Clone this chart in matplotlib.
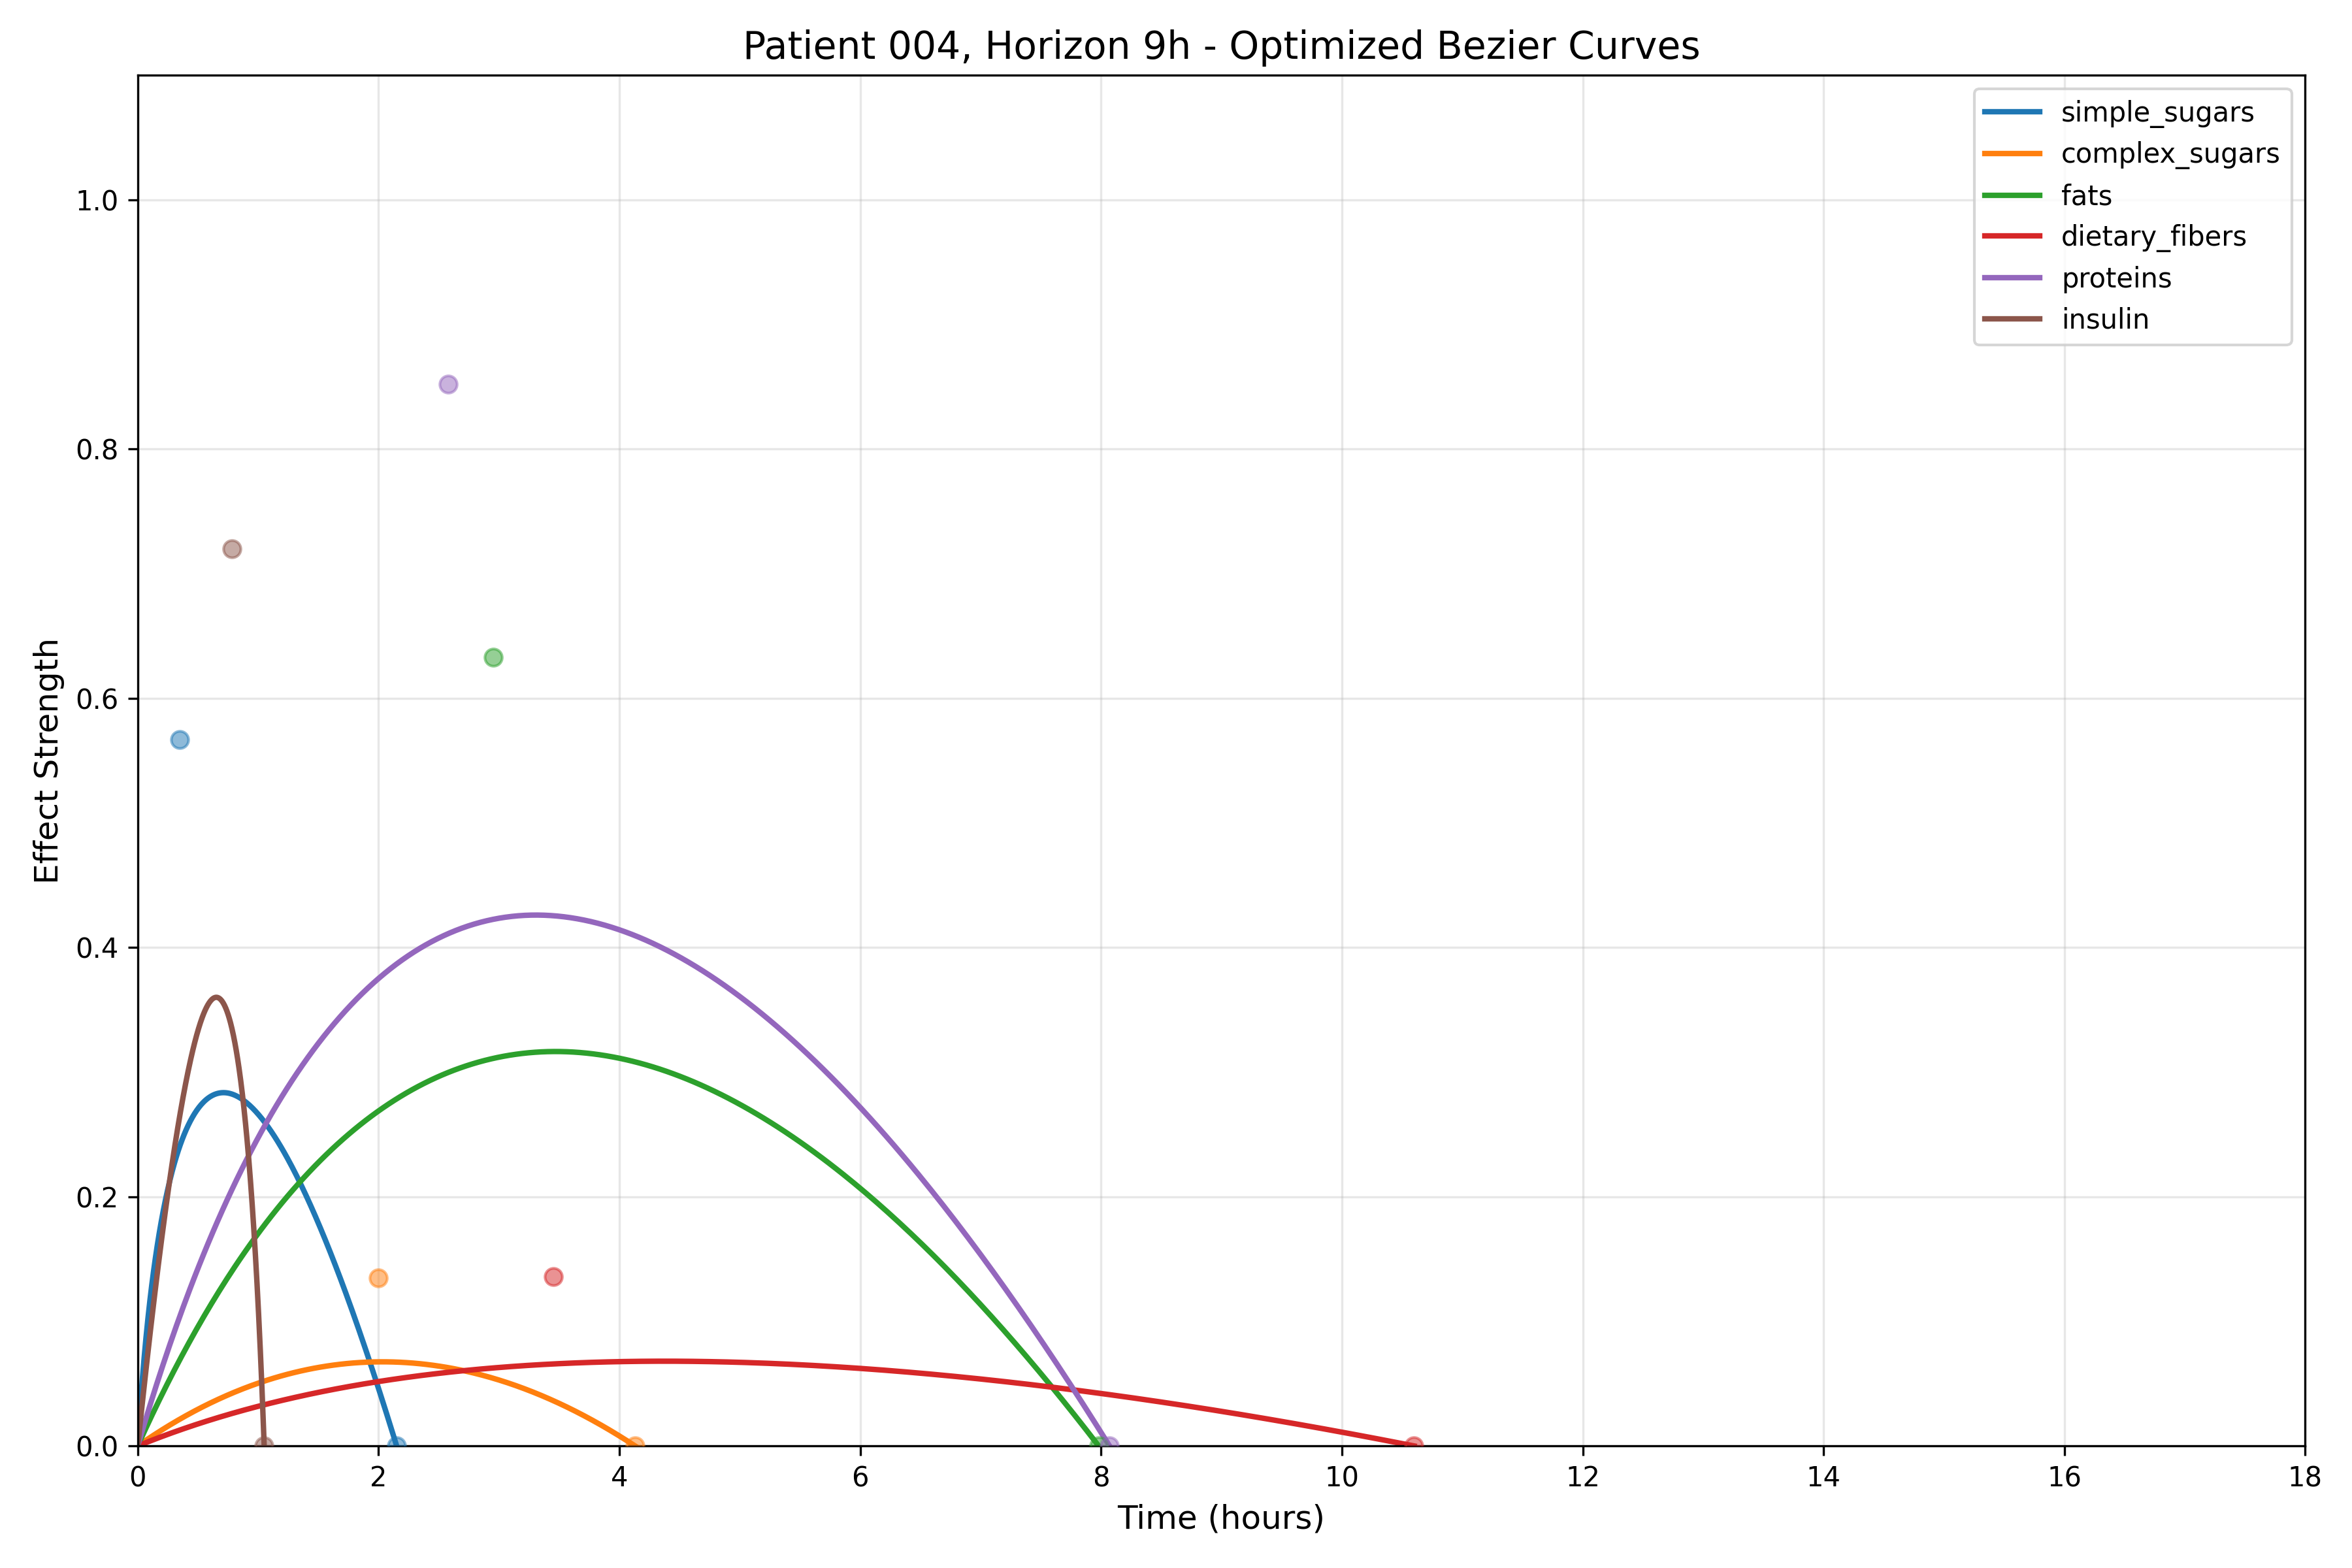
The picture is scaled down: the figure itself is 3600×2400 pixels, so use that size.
import numpy as np
import matplotlib
matplotlib.use('Agg')
import matplotlib.pyplot as plt

names = ['simple_sugars', 'complex_sugars', 'fats', 'dietary_fibers', 'proteins', 'insulin']
ctrl_x = [0.35, 2.0, 2.95, 3.45, 2.58, 0.78]
ctrl_y = [0.567, 0.135, 0.633, 0.136, 0.852, 0.72]
end_x = [2.15, 4.13, 7.98, 10.6, 8.07, 1.05]

colors = ['#1f77b4', '#ff7f0e', '#2ca02c', '#d62728', '#9467bd', '#8c564b']

fig, ax = plt.subplots(figsize=(12, 8))
t = np.linspace(0, 1, 300)

for name, cx, cy, ex, c in zip(names, ctrl_x, ctrl_y, end_x, colors):
    # quadratic bezier: (0,0) -> control -> (end,0)
    x = 2 * (1 - t) * t * cx + t**2 * ex
    y = 2 * (1 - t) * t * cy
    ax.plot(x, y, color=c, linewidth=2, label=name)
    ax.scatter([cx, ex], [cy, 0], color=c, alpha=0.5, s=40, zorder=3)

ax.set_xlim(0, 18)
ax.set_ylim(0, 1.1)
ax.set_xlabel('Time (hours)', fontsize=12)
ax.set_ylabel('Effect Strength', fontsize=12)
ax.set_title('Patient 004, Horizon 9h - Optimized Bezier Curves', fontsize=14)
ax.grid(True, alpha=0.3)
ax.legend(loc='upper right')

plt.tight_layout()
plt.savefig('out.png', dpi=300)
